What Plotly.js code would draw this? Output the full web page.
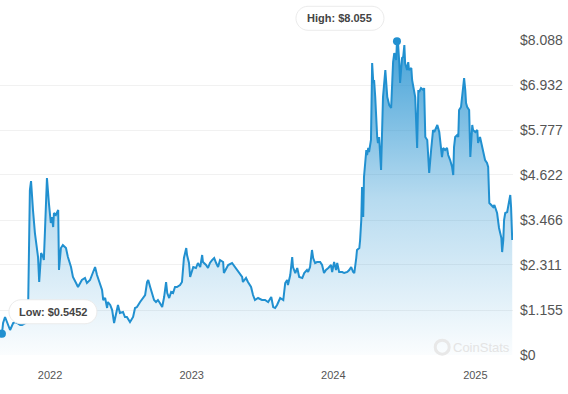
<!DOCTYPE html>
<html>
<head>
<meta charset="utf-8">
<script src="https://cdn.plot.ly/plotly-3.0.1.min.js"></script>
<style>
  html, body { margin: 0; padding: 0; background: #fff; }
  #chart { width: 568px; height: 394px; }
</style>
</head>
<body>
<div id="chart"></div>
<script>
// Series start date; "days" are days elapsed since this date.
const startDate = '2021-08-25';
const days = [0,3,5,8,13,18,26,34,39,44,52,57,64,70,72,75,77,80,82,85,90,95,98,101,106,111,113,116,119,121,126,131,134,137,139,144,150,152,157,162,170,175,183,188,196,201,211,219,224,232,240,245,250,258,263,266,271,276,278,284,289,294,299,304,309,317,322,327,335,343,348,353,361,369,374,379,382,387,392,397,402,407,412,418,423,428,431,436,441,446,451,456,464,469,474,480,482,487,490,495,498,505,510,516,521,523,531,536,541,547,552,557,562,567,575,577,583,588,598,606,614,624,626,634,639,647,652,657,665,675,683,691,699,704,709,714,722,730,735,740,742,748,753,755,761,766,771,779,784,791,794,799,804,807,812,817,825,830,835,840,846,853,856,861,866,869,874,882,887,895,900,905,910,913,918,920,926,928,931,933,936,938,944,946,949,951,956,959,962,964,967,969,972,974,977,982,985,987,993,995,998,1003,1008,1011,1013,1016,1021,1023,1026,1029,1031,1036,1039,1042,1044,1049,1052,1054,1060,1062,1065,1070,1075,1078,1080,1085,1091,1093,1096,1101,1103,1106,1111,1116,1119,1124,1127,1132,1137,1139,1142,1147,1152,1155,1160,1165,1168,1170,1173,1178,1181,1183,1188,1191,1194,1196,1199,1201,1204,1209,1212,1217,1219,1225,1230,1232,1237,1243,1245,1250,1255,1258,1261,1266,1271,1274,1279,1281,1286,1292,1294,1297,1299,1302,1307,1312,1315,1317,1320];
const prices = [0.565,0.642,0.5452,0.822,0.976,0.847,0.642,0.822,0.847,0.822,0.770,0.770,0.822,0.847,0.899,3.030,4.236,4.467,4.108,3.723,3.132,2.773,2.516,1.874,2.619,2.516,2.439,3.209,4.159,4.544,3.902,3.389,3.543,3.286,3.646,3.594,3.723,2.182,2.747,2.824,2.747,2.516,2.259,2.003,1.849,1.746,1.926,1.977,1.849,1.926,2.131,2.259,2.054,1.797,1.669,1.412,1.463,1.207,1.361,1.284,1.155,0.822,1.027,1.284,1.078,1.104,0.976,0.976,0.847,0.976,1.207,1.232,1.361,1.463,1.540,1.874,1.926,1.746,1.592,1.412,1.361,1.412,1.335,1.232,1.489,1.874,1.592,1.463,1.617,1.592,1.746,1.746,1.797,1.874,2.490,2.747,2.567,2.362,2.003,2.182,2.259,2.234,2.362,2.259,2.567,2.388,2.311,2.234,2.362,2.439,2.490,2.362,2.259,2.439,2.388,2.105,2.234,2.311,2.362,2.259,2.131,2.003,1.874,1.977,1.874,1.746,1.540,1.412,1.463,1.412,1.412,1.361,1.489,1.232,1.207,1.284,1.463,1.412,1.849,1.926,1.797,2.054,2.516,2.259,2.105,2.234,2.003,1.977,2.105,2.182,2.131,2.259,2.696,2.490,2.362,2.388,2.388,2.311,2.105,2.182,2.234,2.311,2.131,2.388,2.182,2.362,2.131,2.131,2.105,2.131,2.182,2.259,2.131,2.105,2.490,2.696,2.747,2.952,3.466,4.313,3.543,4.570,5.263,5.135,5.314,5.212,5.520,7.497,6.983,7.060,6.624,6.110,5.597,5.443,5.597,4.750,6.110,6.624,7.317,6.983,6.624,6.418,6.341,7.060,7.522,7.753,7.574,8.055,7.959,7.497,6.983,7.625,7.651,7.959,7.497,7.317,7.522,7.317,7.368,7.060,6.855,6.624,5.314,6.804,6.752,6.855,6.804,6.855,5.597,5.520,5.186,4.673,5.263,5.777,5.725,5.828,5.905,5.725,5.314,5.083,5.314,5.263,5.314,5.135,5.006,4.827,4.621,5.340,5.597,5.648,5.597,6.290,6.367,6.727,6.881,7.112,6.804,6.470,6.367,6.290,5.083,5.905,5.777,5.725,5.777,5.443,5.597,5.314,5.186,5.006,4.929,4.827,3.902,3.851,3.800,3.851,3.723,3.646,3.261,3.004,2.644,2.952,3.466,3.646,3.671,3.979,4.108,3.800,2.952];

const xTickVals = ['2022-01-01','2023-01-01','2024-01-01','2025-01-01'];
const xTickText = ['2022','2023','2024','2025'];
const yTickVals = [0,1.155,2.311,3.466,4.622,5.777,6.932,8.088];
const yTickText = ['$0','$1.155','$2.311','$3.466','$4.622','$5.777','$6.932','$8.088'];
const xRange = ['2021-08-25','2025-04-08'];
const yMax = 8.088;
const highLabel = 'High: $8.055';
const lowLabel = 'Low: $0.5452';
const watermark = 'CoinStats';

const t0 = Date.parse(startDate);
const dates = days.map(d => new Date(t0 + d * 86400000).toISOString().slice(0, 10));

let hi = 0, lo = 0;
prices.forEach((p, i) => { if (p > prices[hi]) hi = i; if (p < prices[lo]) lo = i; });

// paper-fraction position of a data point (so label pills are not clipped to the plot area)
const r0 = Date.parse(xRange[0]), r1 = Date.parse(xRange[1]);
const px = i => (Date.parse(dates[i]) - r0) / (r1 - r0);
const py = i => prices[i] / yMax;

const blue = '#2190d0';
const font = 'Liberation Sans, Arial, sans-serif';

const traces = [
  {
    x: dates, y: prices, type: 'scatter', mode: 'lines',
    line: { color: blue, width: 2 },
    fill: 'tozeroy',
    fillgradient: {
      type: 'vertical', start: 0, stop: yMax,
      colorscale: [[0, 'rgba(33,144,208,0.02)'], [0.5, 'rgba(33,144,208,0.33)'], [1, 'rgba(33,144,208,0.85)']]
    },
    hoverinfo: 'skip'
  },
  {
    x: [dates[hi], dates[lo]], y: [prices[hi], prices[lo]],
    type: 'scatter', mode: 'markers',
    marker: { color: blue, size: 8 },
    cliponaxis: false, hoverinfo: 'skip'
  }
];

// rounded "pill" background, in pixel offsets from an anchor point
function pillPath(cx, cy, w, h) {
  const r = h / 2, hw = w / 2;
  const L = cx - hw, R = cx + hw, T = cy + r, B = cy - r;
  return `M ${L + r},${T} L ${R - r},${T} C ${R - r * 0.45},${T} ${R},${cy + r * 0.55} ${R},${cy} ` +
         `C ${R},${cy - r * 0.55} ${R - r * 0.45},${B} ${R - r},${B} L ${L + r},${B} ` +
         `C ${L + r * 0.45},${B} ${L},${cy - r * 0.55} ${L},${cy} C ${L},${cy + r * 0.55} ${L + r * 0.45},${T} ${L + r},${T} Z`;
}
const pillShape = (i, cx, cy, w) => ({
  type: 'path', xref: 'paper', yref: 'paper', xsizemode: 'pixel', ysizemode: 'pixel',
  xanchor: px(i), yanchor: py(i), path: pillPath(cx, cy, w, 24),
  fillcolor: '#ffffff', line: { color: '#ebebeb', width: 1 }, layer: 'above'
});
const pillText = (text, i, xs, ys) => ({
  x: dates[i], y: prices[i], xref: 'x', yref: 'y', text: '<b>' + text + '</b>', showarrow: false,
  xshift: xs, yshift: ys,
  font: { family: font, size: 11, color: '#444' }
});

const layout = {
  width: 568, height: 394,
  margin: { l: 0, r: 55, t: 40, b: 39 },
  paper_bgcolor: '#ffffff', plot_bgcolor: '#ffffff',
  showlegend: false, hovermode: false,
  xaxis: {
    type: 'date', range: xRange,
    tickvals: xTickVals, ticktext: xTickText,
    showgrid: false, zeroline: false, showline: false, ticks: '',
    tickfont: { family: font, size: 11, color: '#555' },
    ticklabelstandoff: 12
  },
  yaxis: {
    side: 'right', range: [0, yMax],
    tickvals: yTickVals, ticktext: yTickText,
    showgrid: true, gridcolor: '#f1f1f1', gridwidth: 1,
    zeroline: false, showline: false, ticks: '',
    tickfont: { family: font, size: 14, color: '#555' },
    ticklabelstandoff: 6
  },
  annotations: [
    pillText(highLabel, hi, -57, 23),
    pillText(lowLabel, lo, 51, 22),
    {
      x: 0.998, y: 0.025, xref: 'paper', yref: 'paper', xanchor: 'right', yanchor: 'middle',
      text: watermark, showarrow: false,
      font: { family: font, size: 13, color: '#e4e4e4' }
    }
  ],
  shapes: [
    pillShape(hi, -57, 23, 88),
    pillShape(lo, 51, 22, 88),
    {
      type: 'circle', xref: 'paper', yref: 'paper', xsizemode: 'pixel', ysizemode: 'pixel',
      xanchor: 0.862, yanchor: 0.025, x0: -7, x1: 7, y0: -7, y1: 7,
      line: { color: '#e8e8e8', width: 3 }, fillcolor: 'rgba(0,0,0,0)'
    }
  ]
};

Plotly.newPlot('chart', traces, layout, { staticPlot: true, displayModeBar: false });
</script>
</body>
</html>
